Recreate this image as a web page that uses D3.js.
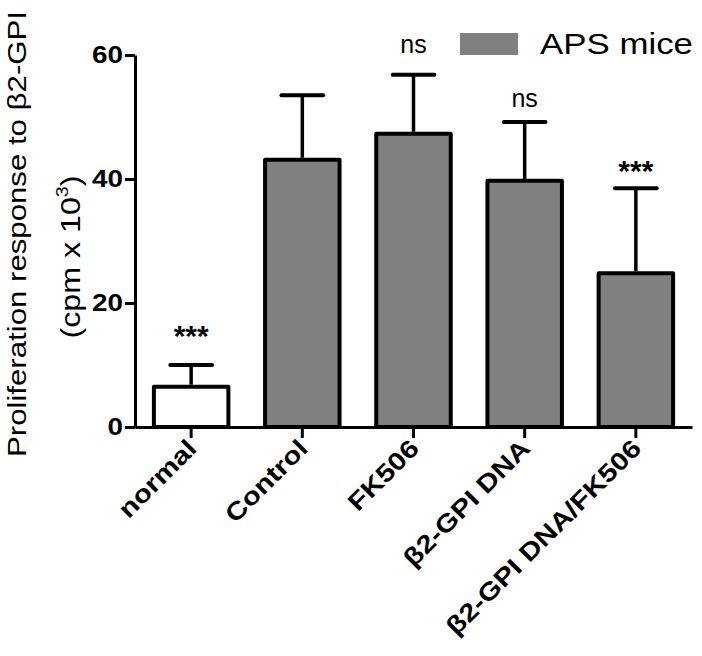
<!DOCTYPE html>
<html><head><meta charset="utf-8">
<script src="https://cdn.jsdelivr.net/npm/d3@7"></script>
<style>body{margin:0;background:#fff}svg{display:block}</style>
</head><body>
<script>
const categories = ["normal", "Control", "FK506", "β2-GPI DNA", "β2-GPI DNA/FK506"];
const groups = ["normal", "APS", "APS", "APS", "APS"];
const means = [6.5, 43.1, 47.3, 39.7, 24.8];
const errors = [3.5, 10.4, 9.5, 9.5, 13.7];
const annotations = ["***", "", "ns", "ns", "***"];
const annotationLevels = [13.1, null, 60.3, 51.6, 39.6];
const yTicks = [0, 20, 40, 60];
const legendLabel = "APS mice";

const W = 702, H = 656;
const svg = d3.select("body").append("svg").attr("width", W).attr("height", H);
const font = "Liberation Sans, Arial, Helvetica, sans-serif";

function stretch(sel, k) {
  sel.each(function () {
    const len = this.getComputedTextLength();
    d3.select(this).attr("textLength", len * k).attr("lengthAdjust", "spacingAndGlyphs");
  });
}

const y = d3.scaleLinear().domain([0, 60]).range([427, 55]);
const x = d3.scaleBand().domain(categories).range([135, 692]).paddingInner(0.33).paddingOuter(0.17);
const color = d3.scaleOrdinal().domain(["normal", "APS"]).range(["#ffffff", "#808080"]);

// bars
const g = svg.append("g");
g.selectAll("rect.bar").data(categories).join("rect")
  .attr("class", "bar")
  .attr("x", d => x(d))
  .attr("y", (d, i) => y(means[i]))
  .attr("width", x.bandwidth())
  .attr("height", (d, i) => y(0) - y(means[i]))
  .attr("fill", (d, i) => color(groups[i]))
  .attr("stroke", "#000").attr("stroke-width", 4).attr("stroke-linejoin", "round");

// error bars
const capW = x.bandwidth() * 0.56;
categories.forEach((c, i) => {
  const cx = x(c) + x.bandwidth() / 2;
  g.append("line").attr("x1", cx).attr("x2", cx)
    .attr("y1", y(means[i]) - 2).attr("y2", y(means[i] + errors[i]))
    .attr("stroke", "#000").attr("stroke-width", 3.5);
  g.append("line").attr("x1", cx - capW / 2).attr("x2", cx + capW / 2)
    .attr("y1", y(means[i] + errors[i])).attr("y2", y(means[i] + errors[i]))
    .attr("stroke", "#000").attr("stroke-width", 4).attr("stroke-linecap", "round");
  if (annotations[i]) {
    const star = annotations[i] === "***";
    g.append("text").attr("x", cx).attr("y", y(annotationLevels[i]))
      .attr("text-anchor", "middle")
      .attr("font-family", font)
      .attr("font-size", star ? 30 : 25)
      .attr("font-weight", star ? "bold" : "normal")
      .text(annotations[i]);
  }
});

// y axis
const yAxis = svg.append("g").attr("transform", "translate(135,0)")
  .call(d3.axisLeft(y).tickValues(yTicks).tickSize(10).tickSizeOuter(0).tickPadding(2));
yAxis.select(".domain").attr("stroke-width", 3);
yAxis.selectAll(".tick line").attr("stroke-width", 3);
yAxis.selectAll(".tick text").attr("font-family", font).attr("font-size", 24)
  .attr("font-weight", "bold").attr("fill", "#000")
  .attr("textLength", d => String(d).length * 15.5).attr("lengthAdjust", "spacingAndGlyphs");

// x axis
const xAxis = svg.append("g").attr("transform", "translate(0,427)")
  .call(d3.axisBottom(x).tickSize(11).tickSizeOuter(0).tickFormat(""));
xAxis.select(".domain").attr("stroke-width", 3);
xAxis.selectAll(".tick line").attr("stroke-width", 3);

// rotated category labels
const xl = svg.append("g").selectAll("text").data(categories).join("text")
  .attr("transform", d => `translate(${x(d) + x.bandwidth() / 2 + 7},${450}) rotate(-45)`)
  .attr("text-anchor", "end")
  .attr("font-family", font).attr("font-size", 25).attr("font-weight", "bold")
  .text(d => d);
stretch(xl, 1.18);

// y axis title
svg.append("text")
  .attr("transform", "translate(26,234) rotate(-90)")
  .attr("text-anchor", "middle").attr("font-family", font).attr("font-size", 26)
  .attr("textLength", 446).attr("lengthAdjust", "spacingAndGlyphs")
  .text("Proliferation response to β2-GPI");
const t2 = svg.append("text")
  .attr("transform", "translate(80,257) rotate(-90)")
  .attr("text-anchor", "middle").attr("font-family", font).attr("font-size", 28);
t2.append("tspan").text("(cpm x 10");
t2.append("tspan").attr("font-size", 17).attr("dy", -12).text("3");
t2.append("tspan").attr("dy", 12).text(")");
stretch(t2, 1.15);

// legend
svg.append("rect").attr("x", 460).attr("y", 33).attr("width", 58).attr("height", 22)
  .attr("fill", color("APS"));
svg.append("text").attr("x", 540).attr("y", 54)
  .attr("font-family", font).attr("font-size", 29)
  .attr("textLength", 153).attr("lengthAdjust", "spacingAndGlyphs")
  .text(legendLabel);
</script>
</body></html>
